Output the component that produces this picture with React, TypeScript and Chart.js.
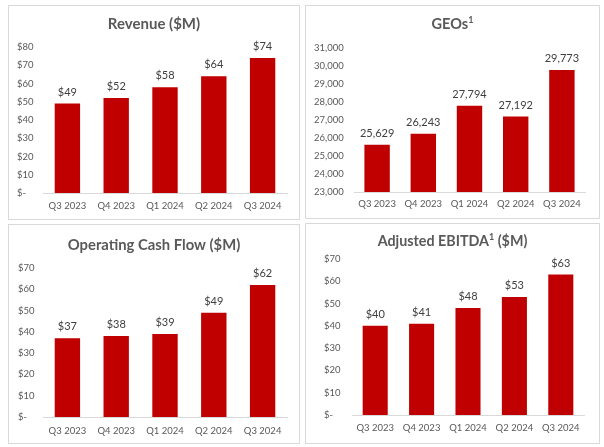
import React, { useEffect, useRef } from 'react';
import { Chart, registerables } from 'chart.js';

Chart.register(...registerables);

// ---- data ----
const categories = ['Q3 2023', 'Q4 2023', 'Q1 2024', 'Q2 2024', 'Q3 2024'];
const revenue = [49, 52, 58, 64, 74];
const geos = [25629, 26243, 27794, 27192, 29773];
const operatingCashFlow = [37, 38, 39, 49, 62];
const adjustedEbitda = [40, 41, 48, 53, 63];

const revenueTitle = [{ text: 'Revenue ($M)' }];
const geosTitle = [{ text: 'GEOs' }, { text: '1', sup: true }];
const ocfTitle = [{ text: 'Operating Cash Flow ($M)' }];
const ebitdaTitle = [{ text: 'Adjusted EBITDA' }, { text: '1', sup: true }, { text: ' ($M)' }];

const dollarTick = (v: number) => (v === 0 ? '$-' : '$' + v);
const commaTick = (v: number) => v.toLocaleString('en-US');

const FONT = 'Lato';
const BAR = '#C00000';
const TICK = '#595959';
const LABEL = '#404040';
const AXIS = '#d9d9d9';

type Part = { text: string; sup?: boolean };

type PanelCfg = {
  box: [number, number, number, number];
  title: Part[];
  titleY: number;
  titleSize: number;
  values: number[];
  min: number;
  max: number;
  step: number;
  tick: (v: number) => string;
  padL: number;
  yW: number;
  padR: number;
  padT: number;
  xH: number;
  xPad: number;
  barPct: number;
};

const panels: PanelCfg[] = [
  {
    box: [8, 5, 292, 215], title: revenueTitle, titleY: 18, titleSize: 15,
    values: revenue, min: 0, max: 80, step: 10, tick: dollarTick,
    padL: 8, yW: 26, padR: 12, padT: 41, xH: 26, xPad: 7.5, barPct: 0.52,
  },
  {
    box: [305, 5, 295, 214], title: geosTitle, titleY: 18, titleSize: 14.5,
    values: geos, min: 23000, max: 31000, step: 1000, tick: commaTick,
    padL: 8, yW: 40, padR: 14, padT: 42, xH: 26, xPad: 6.5, barPct: 0.55,
  },
  {
    box: [8, 224, 292, 220], title: ocfTitle, titleY: 20, titleSize: 14.8,
    values: operatingCashFlow, min: 0, max: 70, step: 10, tick: dollarTick,
    padL: 9, yW: 25, padR: 12, padT: 43, xH: 26, xPad: 8, barPct: 0.52,
  },
  {
    box: [305, 223, 295, 221], title: ebitdaTitle, titleY: 17, titleSize: 14.3,
    values: adjustedEbitda, min: 0, max: 70, step: 10, tick: dollarTick,
    padL: 18, yW: 28, padR: 15, padT: 35, xH: 28, xPad: 7.5, barPct: 0.54,
  },
];

function Panel({ cfg }: { cfg: PanelCfg }) {
  const ref = useRef<HTMLCanvasElement>(null);
  useEffect(() => {
    const canvas = ref.current!;
    const titlePlugin = {
      id: 'panelTitle',
      afterDraw(chart: any) {
        const ctx = chart.ctx;
        ctx.save();
        const main = `bold ${cfg.titleSize}px ${FONT}`;
        const sup = `bold ${Math.round(cfg.titleSize * 0.62)}px ${FONT}`;
        let total = 0;
        const widths = cfg.title.map((p) => {
          ctx.font = p.sup ? sup : main;
          const w = ctx.measureText(p.text).width;
          total += w;
          return w;
        });
        let x = chart.width / 2 - total / 2;
        ctx.fillStyle = TICK;
        ctx.textAlign = 'left';
        ctx.textBaseline = 'middle';
        cfg.title.forEach((p, i) => {
          ctx.font = p.sup ? sup : main;
          ctx.fillText(p.text, x, p.sup ? cfg.titleY - cfg.titleSize * 0.3 : cfg.titleY);
          x += widths[i];
        });
        ctx.restore();
      },
    };
    const valuePlugin = {
      id: 'valueLabels',
      afterDatasetsDraw(chart: any) {
        const ctx = chart.ctx;
        const meta = chart.getDatasetMeta(0);
        ctx.save();
        ctx.font = `11px ${FONT}`;
        ctx.fillStyle = LABEL;
        ctx.textAlign = 'center';
        ctx.textBaseline = 'middle';
        meta.data.forEach((bar: any, i: number) => {
          ctx.fillText(cfg.tick(cfg.values[i]), bar.x, bar.y - 11.5);
        });
        ctx.restore();
      },
    };
    const chart = new Chart(canvas, {
      type: 'bar',
      data: {
        labels: categories,
        datasets: [
          {
            data: cfg.values,
            backgroundColor: BAR,
            categoryPercentage: 1,
            barPercentage: cfg.barPct,
            base: cfg.min,
          } as any,
        ],
      },
      options: {
        responsive: false,
        animation: false,
        devicePixelRatio: 1,
        layout: { padding: { left: cfg.padL, right: cfg.padR, top: cfg.padT, bottom: 0 } },
        plugins: {
          legend: { display: false },
          title: { display: false },
          tooltip: { enabled: false },
        },
        scales: {
          x: {
            grid: { display: false, drawTicks: false },
            border: { display: true, color: AXIS, width: 1 },
            ticks: {
              color: TICK,
              font: { family: FONT, size: 9.5 },
              padding: cfg.xPad,
              maxRotation: 0,
              autoSkip: false,
            },
            afterFit: (s: any) => {
              s.height = cfg.xH;
            },
          },
          y: {
            min: cfg.min,
            max: cfg.max,
            grid: { display: false, drawTicks: false },
            border: { display: false },
            ticks: {
              stepSize: cfg.step,
              color: TICK,
              font: { family: FONT, size: 9.5 },
              crossAlign: 'far',
              padding: 0,
              callback: (v: any) => cfg.tick(Number(v)),
            },
            afterFit: (s: any) => {
              s.width = cfg.yW;
            },
          },
        },
      } as any,
      plugins: [titlePlugin, valuePlugin],
    });
    return () => chart.destroy();
  }, []);
  const [l, t, w, h] = cfg.box;
  return (
    <div
      style={{
        position: 'absolute',
        left: l,
        top: t,
        width: w,
        height: h,
        border: `1px solid ${AXIS}`,
        boxSizing: 'border-box',
        background: '#fff',
      }}
    >
      <canvas ref={ref} width={w - 2} height={h - 2} style={{ display: 'block' }} />
    </div>
  );
}

export default function App() {
  return (
    <div style={{ position: 'absolute', left: 0, top: 0, width: 604, height: 447, background: '#fff' }}>
      {panels.map((p, i) => (
        <Panel key={i} cfg={p} />
      ))}
    </div>
  );
}
